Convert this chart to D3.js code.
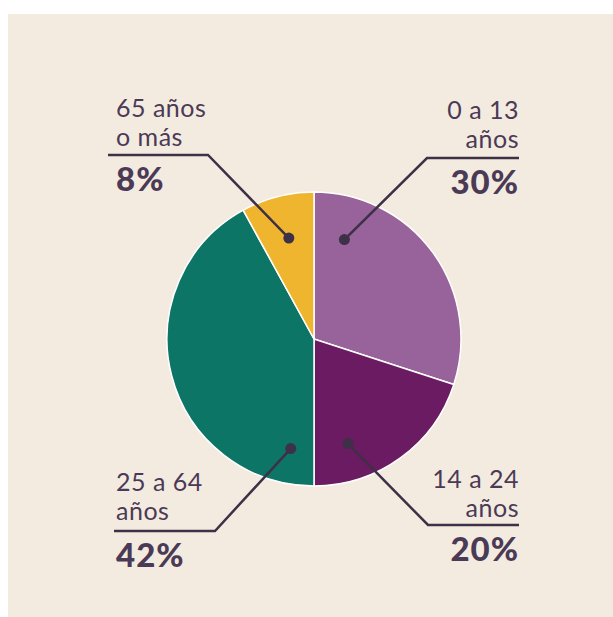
<!DOCTYPE html>
<html>
<head>
<meta charset="utf-8">
<script src="https://cdn.jsdelivr.net/npm/d3@7"></script>
<style>
  html, body { margin: 0; padding: 0; background: #ffffff; }
  svg { display: block; }
  .lbl { font-family: Lato, "Open Sans", sans-serif; fill: #4b3a56; }
</style>
</head>
<body>
<svg width="613" height="617"></svg>
<script>
// age groups, clockwise from 12 o'clock
var groups = ["0 a 13 años", "14 a 24 años", "25 a 64 años", "65 años o más"];
var shares = [30, 20, 42, 8];
var labelLines = [["0 a 13", "años"], ["14 a 24", "años"], ["25 a 64", "años"], ["65 años", "o más"]];
var colors = ["#98629a", "#6a1b62", "#0c7565", "#f0b52f"];

// where each callout sits: dot (angle in degrees from top, distance from centre),
// elbow of the leader, end of the underline, text x and first baseline
var callouts = [
  {ang: 17, dist: 104, elbow: [427, 158], end: 519, tx: 519, side: "right", top: 119},
  {ang: 162, dist: 110, elbow: [428, 525], end: 519, tx: 519, side: "right", top: 488},
  {ang: 192, dist: 112, elbow: [215, 531], end: 114, tx: 116, side: "left", top: 491},
  {ang: 346, dist: 104, elbow: [208, 155], end: 108, tx: 116, side: "left", top: 117}
];

var svg = d3.select("svg");
var cx = 314, cy = 339, radius = 147;

svg.append("rect")
   .attr("x", 8).attr("y", 14)
   .attr("width", 605).attr("height", 603)
   .attr("fill", "#f3ebe0");

var pie = d3.pie().sort(null).value(function (d) { return d; });
var arc = d3.arc().innerRadius(0).outerRadius(radius);
var arcs = pie(shares);

var g = svg.append("g").attr("transform", "translate(" + cx + "," + cy + ")");

g.selectAll("path.slice")
 .data(arcs)
 .enter()
 .append("path")
 .attr("class", "slice")
 .attr("d", arc)
 .attr("fill", function (d, i) { return colors[i]; })
 .attr("stroke", "#ffffff")
 .attr("stroke-width", 1.5);

var total = d3.sum(shares);

callouts.forEach(function (c, i)
{
  var a = c.ang * Math.PI / 180;
  var dx = cx + c.dist * Math.sin(a), dy = cy - c.dist * Math.cos(a);

  svg.append("polyline")
     .attr("points", [[dx, dy], c.elbow, [c.end, c.elbow[1]]].map(function (p) { return p.join(","); }).join(" "))
     .attr("fill", "none")
     .attr("stroke", "#3e3046")
     .attr("stroke-width", 2.5);

  svg.append("circle")
     .attr("cx", dx).attr("cy", dy).attr("r", 5.5)
     .attr("fill", "#3e3046");

  var anchor = c.side == "right" ? "end" : "start";

  labelLines[i].forEach(function (line, k)
  {
    svg.append("text")
       .attr("class", "lbl")
       .attr("x", c.tx)
       .attr("y", c.top + k * 29)
       .attr("text-anchor", anchor)
       .style("font-size", "25px")
       .style("font-weight", 400)
       .style("letter-spacing", "0.5px")
       .text(line);
  });

  svg.append("text")
     .attr("class", "lbl")
     .attr("x", c.tx)
     .attr("y", c.elbow[1] + 36)
     .attr("text-anchor", anchor)
     .style("font-size", "33px")
     .style("font-weight", 900)
     .style("letter-spacing", "1px")
     .text(Math.round(shares[i] / total * 100) + "%");
});
</script>
</body>
</html>
